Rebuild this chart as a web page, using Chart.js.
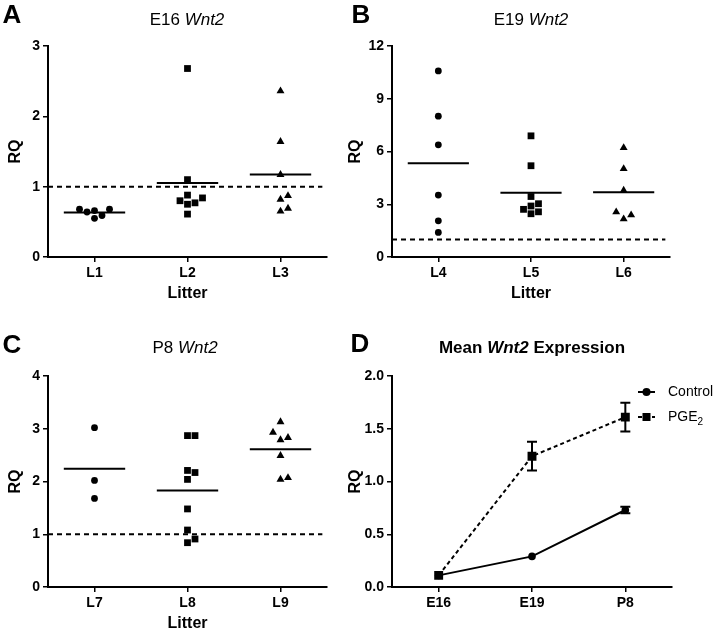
<!DOCTYPE html>
<html>
<head>
<meta charset="utf-8">
<script src="https://cdn.jsdelivr.net/npm/chart.js@4.4.1/dist/chart.umd.min.js"></script>
<style>
html, body { margin: 0; padding: 0; background: #fff; overflow: hidden; }
#wrap { position: relative; width: 714px; height: 629px; font-family: "Liberation Sans", Arial, sans-serif; color: #000; }
canvas { position: absolute; }
.lbl { position: absolute; transform: translate(-50%, -50%); white-space: nowrap; line-height: 1; }
.big { font-size: 26px; font-weight: bold; }
.ttl { font-size: 17px; }
</style>
</head>
<body>
<div id="wrap">
  <canvas id="cA" width="340" height="310" style="left:0;top:0"></canvas>
  <canvas id="cB" width="374" height="310" style="left:340px;top:0"></canvas>
  <canvas id="cC" width="340" height="330" style="left:0;top:310px"></canvas>
  <canvas id="cD" width="374" height="330" style="left:340px;top:310px"></canvas>

  <div class="lbl big" style="left:12px;top:14px">A</div>
  <div class="lbl big" style="left:361px;top:14px">B</div>
  <div class="lbl big" style="left:12px;top:344px">C</div>
  <div class="lbl big" style="left:360px;top:343px">D</div>

  <div class="lbl ttl" style="left:187px;top:19px">E16 <i>Wnt2</i></div>
  <div class="lbl ttl" style="left:531px;top:19px">E19 <i>Wnt2</i></div>
  <div class="lbl ttl" style="left:185px;top:347px">P8 <i>Wnt2</i></div>
  <div class="lbl ttl" style="left:532px;top:347px;font-weight:bold">Mean <i>Wnt2</i> Expression</div>
</div>
<script>
Chart.defaults.font.family = '"Liberation Sans", Arial, sans-serif';
Chart.defaults.color = '#000';

// E16 litters (panel A)
const littersA = ['L1', 'L2', 'L3'];
const l1 = [0.55, 0.59, 0.64, 0.66, 0.68, 0.68];
const l2 = [2.68, 1.10, 0.88, 0.84, 0.80, 0.77, 0.75, 0.61];
const l3 = [2.36, 1.64, 1.17, 0.87, 0.82, 0.69, 0.65];

// E19 litters (panel B)
const littersB = ['L4', 'L5', 'L6'];
const l4 = [10.58, 8.01, 6.38, 3.52, 2.06, 1.40];
const l5 = [6.89, 5.19, 3.44, 3.03, 2.90, 2.71, 2.57, 2.46];
const l6 = [6.21, 5.02, 3.79, 2.56, 2.39, 2.16];

// P8 litters (panel C)
const littersC = ['L7', 'L8', 'L9'];
const l7 = [3.02, 2.02, 1.68];
const l8 = [2.87, 2.87, 2.21, 2.17, 2.04, 1.48, 1.08, 0.91, 0.84];
const l9 = [3.13, 2.93, 2.83, 2.79, 2.49, 2.07, 2.04];

// mean expression (panel D)
const ages = ['E16', 'E19', 'P8'];
const ctrlMean = [0.11, 0.29, 0.73];
const ctrlErr = [0.01, 0.01, 0.03];
const pgeMean = [0.11, 1.24, 1.61];
const pgeErr = [0.01, 0.136, 0.136];
const seriesNames = ['Control', 'PGE'];

const SHAPES = ['circle', 'rect', 'triangle'];
const SIZES = [3.4, 4.8, 4.6];
const PLOT_H = 211;      // plot height in px
const PX_PER_CAT = 93;   // px between litters
const DOT = 7.5;         // min distance between dots
const MEAN_HALF = 0.33;  // half width of the mean line

// spread points sideways so they don't overlap (like a dot plot)
function swarm(vals, cx, pxPerY) {
  const placed = [];
  [...vals].sort((a, b) => a - b).forEach(v => {
    const py = v * pxPerY;
    for (let k = 0; ; k++) {
      const dx = k === 0 ? 0 : Math.ceil(k / 2) * DOT * (k % 2 ? 1 : -1);
      const free = placed.every(p => Math.abs(p.dx - dx) >= DOT || Math.abs(p.py - py) >= DOT);
      if (free) { placed.push({ dx, py, v }); break; }
    }
  });
  return placed.map(p => ({ x: cx + p.dx / PX_PER_CAT, y: p.v }));
}

const gridStyle = { drawOnChartArea: false, drawTicks: true, tickLength: 5, color: '#000', lineWidth: 1.5 };
const borderStyle = { color: '#000', width: 2 };
const tickFont = { size: 14, weight: 'bold' };

function yAxis(max, step, w, fmt) {
  return {
    min: 0, max: max,
    afterFit: s => { s.width = w; },
    ticks: { stepSize: step, font: tickFont, padding: 3, callback: fmt },
    grid: gridStyle,
    border: borderStyle,
    title: { display: true, text: 'RQ', font: { size: 16, weight: 'bold' }, padding: { top: 6, bottom: 0 } }
  };
}

function dotChart(id, labels, groups, yMax, yStep, yW, padTop, padRight) {
  const pxPerY = PLOT_H / yMax;
  const datasets = [];
  groups.forEach((vals, i) => {
    const mean = vals.reduce((a, b) => a + b, 0) / vals.length;
    datasets.push({
      data: swarm(vals, i + 1, pxPerY),
      pointStyle: SHAPES[i], pointRadius: SIZES[i],
      backgroundColor: '#000', borderColor: '#000', borderWidth: 0
    });
    datasets.push({
      data: [{ x: i + 1 - MEAN_HALF, y: mean }, { x: i + 1 + MEAN_HALF, y: mean }],
      showLine: true, pointRadius: 0, borderColor: '#000', borderWidth: 2
    });
  });
  // reference line at RQ = 1
  datasets.push({
    data: [{ x: 0.5, y: 1 }, { x: 3.45, y: 1 }],
    showLine: true, pointRadius: 0, borderColor: '#000', borderWidth: 2, borderDash: [5, 4]
  });

  return new Chart(document.getElementById(id), {
    type: 'scatter',
    data: { datasets },
    options: {
      responsive: false,
      animation: false,
      layout: { padding: { top: padTop, right: padRight, left: 0, bottom: 0 } },
      plugins: { legend: { display: false }, tooltip: { enabled: false } },
      scales: {
        x: {
          type: 'linear', min: 0.5, max: 3.5,
          afterBuildTicks: s => { s.ticks = labels.map((_, i) => ({ value: i + 1 })); },
          afterFit: s => { s.height = 53; },
          ticks: { callback: v => labels[v - 1], font: tickFont, padding: 3, maxRotation: 0 },
          grid: gridStyle,
          border: borderStyle,
          title: { display: true, text: 'Litter', font: { size: 16, weight: 'bold' }, padding: { top: 0, bottom: 7 } }
        },
        y: yAxis(yMax, yStep, yW, v => v)
      }
    }
  });
}

dotChart('cA', littersA, [l1, l2, l3], 3, 1, 48, 46, 13);
dotChart('cB', littersB, [l4, l5, l6], 12, 3, 52, 46, 44);
dotChart('cC', littersC, [l7, l8, l9], 4, 1, 48, 66, 13);

// error bars for panel D (very short bars stay hidden behind the marker)
const errorBars = {
  id: 'errorBars',
  beforeDatasetsDraw(chart) {
    const { ctx, scales: { x, y } } = chart;
    ctx.save();
    ctx.strokeStyle = '#000';
    ctx.lineWidth = 2;
    chart.data.datasets.forEach(ds => {
      ds.errors.forEach((e, i) => {
        const px = x.getPixelForValue(i);
        const top = y.getPixelForValue(ds.data[i] + e);
        const bot = y.getPixelForValue(ds.data[i] - e);
        if (bot - top < 4) return;
        ctx.beginPath();
        ctx.moveTo(px, top); ctx.lineTo(px, bot);
        ctx.moveTo(px - 5, top); ctx.lineTo(px + 5, top);
        ctx.moveTo(px - 5, bot); ctx.lineTo(px + 5, bot);
        ctx.stroke();
      });
    });
    ctx.restore();
  }
};

// legend with line + marker, PGE with subscript 2
const meanLegend = {
  id: 'meanLegend',
  afterDraw(chart) {
    const { ctx, chartArea } = chart;
    const x0 = chartArea.right - 34, x1 = chartArea.right - 17, tx = chartArea.right - 4;
    const rows = [
      { text: seriesNames[0], dash: [], shape: 'circle', y: chartArea.top + 16 },
      { text: seriesNames[1], dash: [4, 3], shape: 'rect', y: chartArea.top + 41 }
    ];
    ctx.save();
    ctx.fillStyle = '#000';
    ctx.strokeStyle = '#000';
    rows.forEach((r, i) => {
      ctx.lineWidth = 2;
      ctx.setLineDash(r.dash);
      ctx.beginPath();
      ctx.moveTo(x0, r.y); ctx.lineTo(x1, r.y);
      ctx.stroke();
      ctx.setLineDash([]);
      const mx = (x0 + x1) / 2;
      if (r.shape === 'circle') {
        ctx.beginPath(); ctx.arc(mx, r.y, 4, 0, Math.PI * 2); ctx.fill();
      } else {
        ctx.fillRect(mx - 4, r.y - 4, 8, 8);
      }
      ctx.font = '14px "Liberation Sans", Arial, sans-serif';
      ctx.textBaseline = 'middle';
      ctx.textAlign = 'left';
      ctx.fillText(r.text, tx, r.y);
      if (i === 1) {
        const w = ctx.measureText(r.text).width;
        ctx.font = '10px "Liberation Sans", Arial, sans-serif';
        ctx.fillText('2', tx + w, r.y + 5);
      }
    });
    ctx.restore();
  }
};

new Chart(document.getElementById('cD'), {
  type: 'line',
  data: {
    labels: ages,
    datasets: [
      {
        label: 'PGE2', data: pgeMean, errors: pgeErr, order: 1,
        borderColor: '#000', backgroundColor: '#000', borderWidth: 2, borderDash: [4, 3],
        pointStyle: 'rect', pointRadius: 6.3, pointBorderWidth: 0
      },
      {
        label: 'Control', data: ctrlMean, errors: ctrlErr, order: 2,
        borderColor: '#000', backgroundColor: '#000', borderWidth: 2,
        pointStyle: 'circle', pointRadius: 3.8, pointBorderWidth: 0
      }
    ]
  },
  options: {
    responsive: false,
    animation: false,
    layout: { padding: { top: 66, right: 42, left: 0, bottom: 0 } },
    plugins: { legend: { display: false }, tooltip: { enabled: false } },
    scales: {
      x: {
        type: 'category', offset: true,
        afterFit: s => { s.height = 53; },
        ticks: { font: tickFont, padding: 3, maxRotation: 0 },
        grid: Object.assign({}, gridStyle, { offset: false }),
        border: borderStyle
      },
      y: yAxis(2, 0.5, 52, v => v.toFixed(1))
    }
  },
  plugins: [errorBars, meanLegend]
});
</script>
</body>
</html>
